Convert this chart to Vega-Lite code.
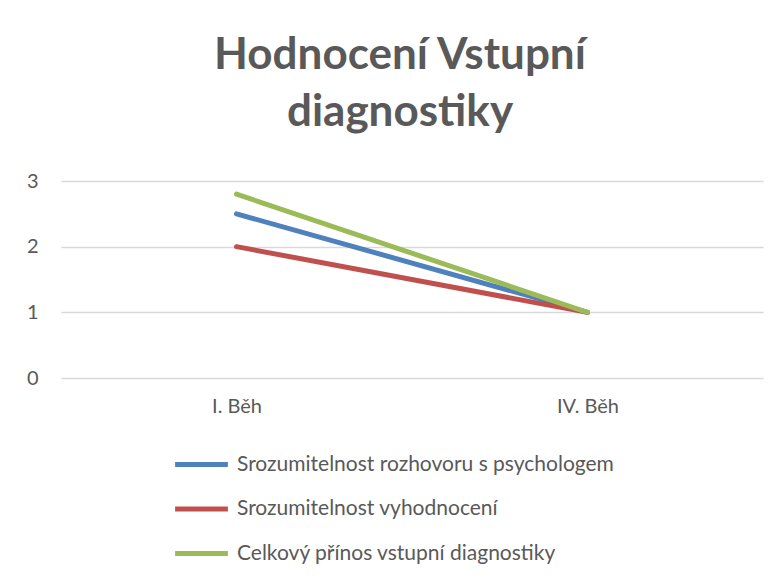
{
  "$schema": "https://vega.github.io/schema/vega-lite/v6.json",
  "width": 702,
  "height": 197,
  "autosize": "none",
  "padding": {"left": 61, "top": 181, "right": 19, "bottom": 201},
  "background": "white",
  "title": {
    "text": ["Hodnocení Vstupní", "diagnostiky"],
    "font": "Lato",
    "fontSize": 44,
    "fontWeight": "bold",
    "color": "#595959",
    "lineHeight": 57,
    "offset": 36,
    "anchor": "middle",
    "dx": -12
  },
  "data": {
    "values": [
      {"beh": "I. Běh", "serie": "Srozumitelnost rozhovoru s psychologem", "hodnota": 2.5},
      {"beh": "IV. Běh", "serie": "Srozumitelnost rozhovoru s psychologem", "hodnota": 1},
      {"beh": "I. Běh", "serie": "Srozumitelnost vyhodnocení", "hodnota": 2},
      {"beh": "IV. Běh", "serie": "Srozumitelnost vyhodnocení", "hodnota": 1},
      {"beh": "I. Běh", "serie": "Celkový přínos vstupní diagnostiky", "hodnota": 2.8},
      {"beh": "IV. Běh", "serie": "Celkový přínos vstupní diagnostiky", "hodnota": 1}
    ]
  },
  "mark": {"type": "line", "strokeWidth": 5, "strokeCap": "round", "strokeJoin": "round"},
  "encoding": {
    "x": {
      "field": "beh",
      "type": "ordinal",
      "sort": ["I. Běh", "IV. Běh"],
      "scale": {"type": "point", "padding": 0.5},
      "axis": {
        "title": null,
        "labelAngle": 0,
        "labelFont": "Lato",
        "labelFontSize": 20,
        "labelColor": "#595959",
        "labelPadding": 18,
        "ticks": false,
        "domain": false,
        "grid": false
      }
    },
    "y": {
      "field": "hodnota",
      "type": "quantitative",
      "scale": {"domain": [0, 3], "nice": false},
      "axis": {
        "title": null,
        "values": [0, 1, 2, 3],
        "labelFont": "Lato",
        "labelFontSize": 20,
        "labelColor": "#595959",
        "labelPadding": 23,
        "ticks": false,
        "domain": false,
        "grid": true,
        "gridColor": "#d9d9d9",
        "gridWidth": 1.5
      }
    },
    "color": {
      "field": "serie",
      "type": "nominal",
      "sort": ["Srozumitelnost rozhovoru s psychologem", "Srozumitelnost vyhodnocení", "Celkový přínos vstupní diagnostiky"],
      "scale": {
        "domain": ["Srozumitelnost rozhovoru s psychologem", "Srozumitelnost vyhodnocení", "Celkový přínos vstupní diagnostiky"],
        "range": ["#4f81bd", "#c0504d", "#9bbb59"]
      },
      "legend": {
        "title": null,
        "orient": "none",
        "legendX": 116,
        "legendY": 259,
        "direction": "vertical",
        "symbolType": "M-1.2,0H1.2",
        "symbolSize": 1936,
        "symbolStrokeWidth": 5,
        "labelFont": "Lato",
        "labelFontSize": 21,
        "labelColor": "#595959",
        "labelOffset": 11,
        "rowPadding": 9.5,
        "labelLimit": 600
      }
    }
  },
  "config": {"view": {"stroke": null}}
}
